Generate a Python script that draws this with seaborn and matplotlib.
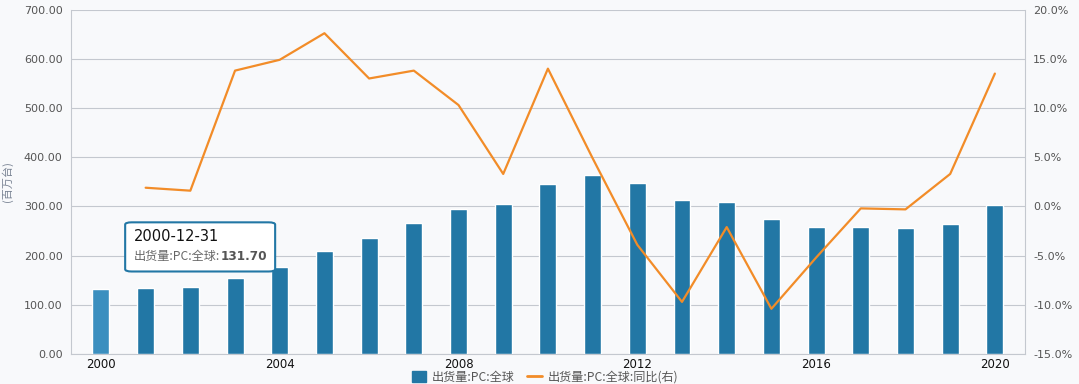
import numpy as np
import pandas as pd
import matplotlib
matplotlib.use("Agg")
import matplotlib.pyplot as plt
import seaborn as sns
from matplotlib.patches import FancyBboxPatch, Patch
from matplotlib.lines import Line2D

years = list(range(2000, 2021))
shipments = [131.70, 134, 136, 154, 176, 209, 235, 267, 294, 304, 346, 363,
             348, 314, 308, 275, 259, 259, 257, 265, 302]
yoy = [np.nan, 1.9, 1.6, 13.8, 14.9, 17.6, 13.0, 13.8, 10.3, 3.3, 14.0, 4.9,
       -3.9, -9.7, -2.1, -10.4, -5.2, -0.2, -0.3, 3.3, 13.5]
xtick_labels = ["2000", "2004", "2008", "2012", "2016", "2020"]
bar_label = "出货量:PC:全球"
line_label = "出货量:PC:全球:同比(右)"
tooltip_date = "2000-12-31"

df = pd.DataFrame({"year": years, "shipments": shipments, "yoy": yoy})

sns.set_theme(style="white")
plt.rcParams['font.family'] = ['Noto Sans CJK SC', 'DejaVu Sans']

bg = "#f8f9fb"
bar_color = "#2277a5"
hl_color = "#3b8fbf"
line_color = "#f28c28"
grid_color = "#c4c8cf"

fig = plt.figure(figsize=(10.79, 3.84), dpi=100, facecolor=bg)
ax = fig.add_axes([0.0658, 0.078, 0.884, 0.897], facecolor=bg)

sns.barplot(data=df, x="year", y="shipments", native_scale=True, width=0.38,
            color=bar_color, saturation=1, ax=ax, zorder=3)
for p, yr in zip(ax.patches, years):
    if yr == 2000:
        p.set_facecolor(hl_color)

ax.set_xlim(1999.33, 2020.67)
ax.set_ylim(0, 700)
ax.set_yticks(np.arange(0, 701, 100))
ax.set_yticklabels([f"{v:.2f}" for v in np.arange(0, 701, 100)], fontsize=8,
                   color="#555555", family="DejaVu Sans")
ax.set_xticks(years)
ax.set_xticklabels([str(y) if str(y) in xtick_labels else "" for y in years],
                   fontsize=8.5, color="#111111", family="DejaVu Sans")
ax.tick_params(axis="x", length=4, color=grid_color, pad=-1.5)
ax.tick_params(axis="y", length=0, pad=6)
ax.grid(axis="y", color=grid_color, linewidth=0.8, zorder=0)
ax.set_axisbelow(True)
ax.set_xlabel("")
ax.set_ylabel("(百万台)", fontsize=8, color="#7a8494", labelpad=8)
for s in ["left", "bottom", "right"]:
    ax.spines[s].set_color(grid_color)
    ax.spines[s].set_linewidth(0.8)
ax.spines["top"].set_visible(False)

ax2 = ax.twinx()
sns.lineplot(data=df, x="year", y="yoy", color=line_color, linewidth=1.6,
             ax=ax2, zorder=4)
ax2.set_ylim(-15, 20)
ax2.set_yticks(np.arange(-15, 21, 5))
ax2.set_yticklabels([f"{v:.1f}%" for v in np.arange(-15, 21, 5)], fontsize=8,
                    color="#555555", family="DejaVu Sans")
ax2.tick_params(axis="y", length=0, pad=6)
ax2.set_ylabel("")
for s in ["left", "bottom", "right", "top"]:
    ax2.spines[s].set_visible(False)
ax2.set_xlim(1999.33, 2020.67)

# tooltip
box = FancyBboxPatch((0.116, 0.293), 0.139, 0.128, transform=fig.transFigure,
                     boxstyle="round,pad=0,rounding_size=0.006",
                     facecolor="white", edgecolor=bar_color, linewidth=1.5,
                     zorder=10)
fig.patches.append(box)
fig.text(0.124, 0.383, tooltip_date, fontsize=10.5, color="#111111",
         va="center", ha="left", family="DejaVu Sans", zorder=11)
t1 = fig.text(0.124, 0.333, bar_label + ":", fontsize=8.7, color="#666666",
              va="center", ha="left", zorder=11)
fig.canvas.draw()
bb = t1.get_window_extent()
fig.text(bb.x1 / fig.bbox.width + 0.001, 0.333, f"{shipments[0]:.2f}",
         fontsize=8.7, color="#555555", fontweight="bold", va="center",
         ha="left", family="DejaVu Sans", zorder=11)

handles = [Patch(facecolor=bar_color, edgecolor=bar_color),
           Line2D([0], [0], color=line_color, linewidth=2)]
fig.legend(handles, [bar_label, line_label], loc="center",
           bbox_to_anchor=(0.505, 0.018), ncol=2, frameon=False, fontsize=8.7,
           labelcolor="#555555", handlelength=1.2, handleheight=1.0,
           columnspacing=1.0, handletextpad=0.5)

fig.savefig("out.png", dpi=100, facecolor=bg)
